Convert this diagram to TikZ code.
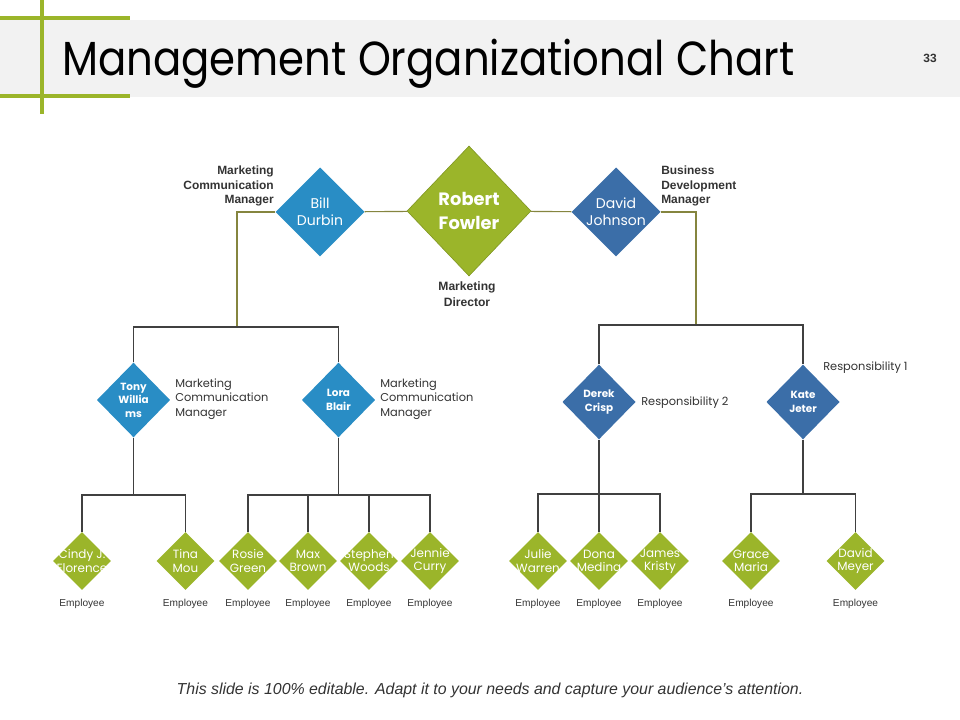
\documentclass[tikz,border=0pt]{standalone}
\usepackage{fontspec}
\setmainfont{Liberation Sans}
\newfontfamily\gothic{Poppins}
\usepackage{tikz}
\usetikzlibrary{shapes.geometric}
\definecolor{leaf}{HTML}{9BB52A}
\definecolor{leafdark}{HTML}{7D9421}
\definecolor{sky}{HTML}{298DC5}
\definecolor{navy}{HTML}{3B6EA8}
\definecolor{stem}{HTML}{85853F}
\definecolor{wire}{HTML}{404040}
\definecolor{ink}{HTML}{333333}
\definecolor{band}{HTML}{F2F2F2}

\begin{document}
\begin{tikzpicture}[x=0.025cm, y=-0.025cm,
            boss/.style={diamond, fill=leaf, draw=leafdark, inner sep=0pt, minimum width=3.1cm, minimum height=3.25cm},
            mgr/.style={diamond, inner sep=0pt, minimum size=2.23cm},
            lead/.style={diamond, inner sep=0pt, minimum width=1.83cm, minimum height=1.87cm},
            emp/.style={diamond, fill=leaf, inner sep=0pt, minimum size=1.45cm},
            nm/.style={text=white, align=center, inner sep=0pt, font=\gothic\fontsize{8.5}{9.3}\selectfont},
            nmbold/.style={nm, font=\gothic\bfseries\fontsize{7.4}{9.6}\selectfont},
            tag/.style={text=ink, inner sep=0pt, font=\bfseries\fontsize{8.5}{10}\selectfont},
            role/.style={text=ink, inner sep=0pt, align=left, anchor=west, font=\gothic\fontsize{8.1}{10.2}\selectfont},
            staff/.style={text=ink, inner sep=0pt, font=\fontsize{7.2}{8}\selectfont},
            stem line/.style={stem, line width=0.8pt},
            wire line/.style={wire, line width=0.8pt}]
            \useasboundingbox (0,0) rectangle (960,720);

            \fill[band] (0,20) rectangle (960,97);
            \draw[leaf, line width=3pt] (42,0) -- (42,114);
            \draw[leaf, line width=3pt] (0,18) -- (130,18);
            \draw[leaf, line width=3pt] (0,96) -- (130,96);
            \node[anchor=base west, inner sep=0pt, font=\gothic\fontsize{34}{40}\selectfont] (title) at (62,76) {\scalebox{0.875}[1]{Management Organizational Chart}};
            \node[tag] (page) at (930,58) {33};

            \node[boss, label={[nm, font=\gothic\bfseries\fontsize{12.7}{17}\selectfont]center:{Robert\\Fowler}}] (robert) at (469,211) {};
            \node[mgr, fill=sky, label={[nm, font=\gothic\fontsize{10}{12}\selectfont]center:{Bill\\Durbin}}] (bill) at (320,212) {};
            \node[mgr, fill=navy, label={[nm, font=\gothic\fontsize{10}{12}\selectfont]center:{David\\Johnson}}] (david) at (616,212) {};
            \draw[stem line] (bill) -- (robert);
            \draw[stem line] (robert) -- (david);

            \node[tag, anchor=east, align=right] (billrole) at (274,186) {Marketing\\Communication\\Manager};
            \node[tag, anchor=west, align=left] (davidrole) at (661,186) {Business\\Development\\Manager};
            \node[tag, align=center, font=\bfseries\fontsize{8.6}{11.4}\selectfont] (robertrole) at (467,294) {Marketing\\Director};

            \node[lead, fill=sky, label={[nmbold]center:{Tony\\Willia\\ms}}] (tony) at (133.5,400) {};
            \node[lead, fill=sky, label={[nmbold]center:{Lora\\Blair}}] (lora) at (338.5,400) {};
            \node[lead, fill=navy, label={[nmbold]center:{Derek\\Crisp}}] (derek) at (599,402) {};
            \node[lead, fill=navy, label={[nmbold]center:{Kate\\Jeter}}] (kate) at (803,402) {};

            \node[role] (tonyrole) at (175,399) {Marketing\\Communication\\Manager};
            \node[role] (lorarole) at (380,399) {Marketing\\Communication\\Manager};
            \node[role] (derekrole) at (641,403) {Responsibility 2};
            \node[role] (katerole) at (823,368) {Responsibility 1};

            \coordinate (lsplit) at (237,327);
            \coordinate (rsplit) at (696,325);
            \draw[stem line] (bill.west) -| (lsplit);
            \draw[stem line] (david.east) -| (rsplit);
            \draw[wire line] (tony.north) |- (lsplit) -| (lora.north);
            \draw[wire line] (derek.north) |- (rsplit) -| (kate.north);

            \foreach \n/\x/\first/\last in {cindy/82/Cindy J./Florence, tina/185.5/Tina/Mou, rosie/248/Rosie/Green,
                    max/308/Max/Brown, stephen/369/Stephen/Woods, jennie/430/Jennie/Curry, julie/538/Julie/Warren,
                    dona/599/Dona/Medina, james/660/James/Kristy, grace/751/Grace/Maria, meyer/855.5/David/Meyer} {
                \node[emp, label={[nm]center:{\first\\\last}}] (\n) at (\x,561) {};
                \node[staff] (\n-job) at (\x,604) {Employee};
            }

            \coordinate (tsplit) at (133.5,495);
            \coordinate (bsplit) at (338.5,495);
            \coordinate (dsplit) at (599,494);
            \coordinate (ksplit) at (803,494);
            \draw[wire line] (tony.south) -- (tsplit);
            \draw[wire line] (cindy.north) |- (tsplit) -| (tina.north);
            \draw[wire line] (lora.south) -- (bsplit);
            \draw[wire line] (rosie.north) |- (bsplit) -| (jennie.north);
            \foreach \n in {max, stephen}
                \draw[wire line] (\n.north) -- (\n.north |- bsplit);
            \draw[wire line] (derek.south) -- (dona.north);
            \draw[wire line] (julie.north) |- (dsplit) -| (james.north);
            \draw[wire line] (kate.south) -- (ksplit);
            \draw[wire line] (grace.north) |- (ksplit) -| (meyer.north);

            \node[text=ink, font=\itshape\fontsize{11.3}{13}\selectfont] (note) at (490,690) {This slide is 100\% editable. Adapt it to your needs and capture your audience's attention.};
        \end{tikzpicture}
\end{document}
